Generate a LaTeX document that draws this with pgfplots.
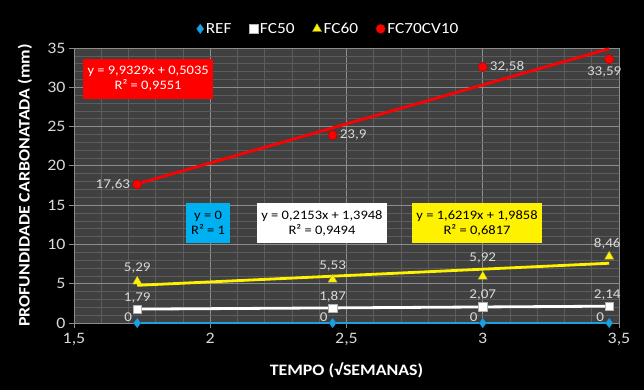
\documentclass[border=0pt]{standalone}
\usepackage{pgfplots}
\pgfplotsset{compat=1.18}
\usepackage{fontspec}
\setmainfont{Carlito}[FakeStretch=1.12]
\definecolor{plotbg}{HTML}{404040}
\definecolor{majgrid}{HTML}{8C8C8C}
\definecolor{mingrid}{HTML}{5C5C5C}
\definecolor{txt}{HTML}{D9D9D9}
\definecolor{refblue}{HTML}{1BA1E2}
\definecolor{eqblue}{HTML}{00B0F0}
\begin{document}
\begin{tikzpicture}
\useasboundingbox (-74bp,-67bp) rectangle (570bp,323bp);
\fill[black] (-74bp,-67bp) rectangle (570bp,323bp);
\begin{axis}[
  at={(0,0)}, anchor=south west,
  width=545bp, height=275bp, scale only axis,
  clip=false,
  xmin=1.5, xmax=3.5, ymin=0, ymax=35,
  xtick={1.5,2,2.5,3,3.5}, ytick={0,5,...,35},
  minor x tick num=4, minor y tick num=4,
  grid=both,
  major grid style={majgrid, line width=0.8bp},
  minor grid style={mingrid, line width=0.6bp},
  axis background/.style={fill=plotbg},
  axis line style={majgrid, line width=0.8bp},
  xtick pos=bottom, ytick pos=left,
  tick align=outside,
  major tick length=5bp, minor tick length=0bp,
  tick style={majgrid, line width=0.8bp},
  ticklabel style={font=\fontsize{16}{16}\selectfont, text=txt},
  /pgf/number format/assume math mode=true,
  /pgf/number format/use comma,
  xticklabel style={yshift=-2bp},
  xlabel={TEMPO (√SEMANAS)},
  ylabel={PROFUNDIDADE CARBONATADA (mm)},
  label style={font=\bfseries\fontsize{16}{16}\selectfont, text=white},
  xlabel style={at={(axis description cs:0.5,-0.171)}, anchor=center},
  ylabel style={at={(axis description cs:-0.09,0.5)}, anchor=center, rotate=0},
  legend style={at={(0.5,1)}, anchor=south, xshift=-18bp, yshift=9bp, draw=none, fill=none,
    text=white, font=\fontsize{15.5}{15.5}\selectfont,
    /tikz/every even column/.append style={column sep=16bp}},
  legend columns=4,
]
% trendlines
\addplot[forget plot, refblue, line width=1.5bp] coordinates {(1.732,0) (3.464,0)};
\addplot[forget plot, white, line width=2.8bp] coordinates {(1.732,1.7677) (3.464,2.1406)};
\addplot[forget plot, yellow, line width=2.8bp] coordinates {(1.732,4.7949) (3.464,7.6041)};
\addplot[forget plot, red, line width=2.8bp] coordinates {(1.732,17.7073) (3.464,34.9111)};
% data
\addplot[only marks, mark=diamond*, mark size=4.8bp, mark options={fill=refblue, draw=refblue!80!black}]
  coordinates {(1.732,0) (2.449,0) (3,0) (3.464,0)};
\addlegendentry{REF}
\addplot[only marks, mark=square*, mark size=4.2bp, mark options={fill=white, draw=gray!60}]
  coordinates {(1.732,1.79) (2.449,1.87) (3,2.07) (3.464,2.14)};
\addlegendentry{FC50}
\addplot[only marks, mark=triangle*, mark size=5.2bp, mark options={fill=yellow, draw=yellow!70!black}]
  coordinates {(1.732,5.29) (2.449,5.53) (3,5.92) (3.464,8.46)};
\addlegendentry{FC60}
\addplot[only marks, mark=*, mark size=4.6bp, mark options={fill=red, draw=red!70!black}]
  coordinates {(1.732,17.63) (2.449,23.9) (3,32.58) (3.464,33.59)};
\addlegendentry{FC70CV10}
% data labels
\begin{scope}[every node/.style={text=txt, font=\fontsize{13.5}{13.5}\selectfont, inner sep=1bp}]
\node[anchor=east] at (axis cs:1.732,0) [xshift=-4bp, yshift=6bp] {0};
\node[anchor=east] at (axis cs:2.449,0) [xshift=-4bp, yshift=6bp] {0};
\node[anchor=east] at (axis cs:3,0) [xshift=-4bp, yshift=6bp] {0};
\node[anchor=east] at (axis cs:3.464,0) [xshift=-4bp, yshift=6bp] {0};
\node[anchor=south] at (axis cs:1.732,1.79) [yshift=5bp] {1,79};
\node[anchor=south] at (axis cs:2.449,1.87) [yshift=5bp] {1,87};
\node[anchor=south] at (axis cs:3,2.07) [yshift=5bp] {2,07};
\node[anchor=south] at (axis cs:3.464,2.14) [yshift=5bp, xshift=-2bp] {2,14};
\node[anchor=south] at (axis cs:1.732,5.29) [yshift=7bp] {5,29};
\node[anchor=south] at (axis cs:2.449,5.53) [yshift=7bp] {5,53};
\node[anchor=south] at (axis cs:3,5.92) [yshift=12bp] {5,92};
\node[anchor=south] at (axis cs:3.464,8.46) [yshift=6bp, xshift=-2bp] {8,46};
\node[anchor=east] at (axis cs:1.732,17.63) [xshift=-6bp] {17,63};
\node[anchor=west] at (axis cs:2.449,23.9) [xshift=6bp] {23,9};
\node[anchor=west] at (axis cs:3,32.58) [xshift=6bp] {32,58};
\node[anchor=north] at (axis cs:3.464,33.59) [yshift=-6bp, xshift=-5bp] {33,59};
\end{scope}
% equation boxes
\begin{scope}[every node/.style={font=\fontsize{13}{15}\selectfont, align=center, minimum height=40bp, inner sep=2bp}]
\node[fill=red, text=white, minimum width=130bp] at (axis cs:1.772,31.05) {y = 9,9329x + 0,5035\\R² = 0,9551};
\node[fill=eqblue, text=black, minimum width=44bp] at (axis cs:1.992,12.73) {y = 0\\R² = 1};
\node[fill=white, text=black, minimum width=130bp] at (axis cs:2.410,12.73) {y = 0,2153x + 1,3948\\R² = 0,9494};
\node[fill=yellow, text=black, minimum width=130bp] at (axis cs:2.979,12.73) {y = 1,6219x + 1,9858\\R² = 0,6817};
\end{scope}
\end{axis}
\end{tikzpicture}
\end{document}
